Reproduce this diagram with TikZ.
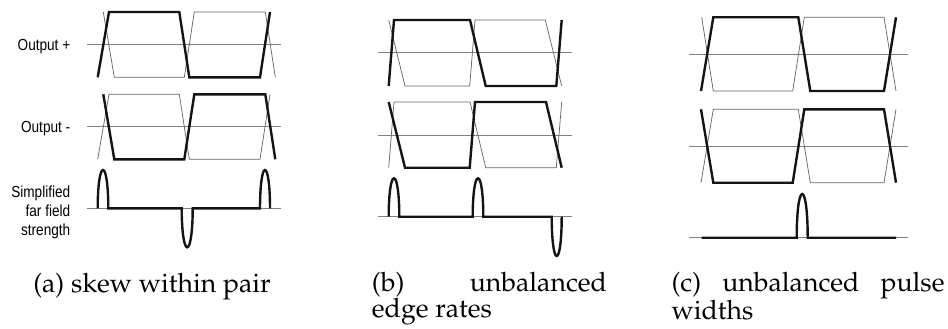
\documentclass[tikz,border=0pt]{standalone}
\usepackage{fontspec}
\newfontfamily\lblfont[FakeStretch=0.85]{Liberation Sans}
\newcommand\capfont{\fontencoding{OT1}\fontfamily{ppl}\fontsize{20}{18}\selectfont}
% half-ellipse arch from (#1,#3) to (#2,#3) with apex at height #4
\newcommand\archto[4]{.. controls (#1,{#3+0.58*(#4-#3)}) and ({(#1+#2)/2-0.29*(#2-#1)},#4) .. ({(#1+#2)/2},#4) .. controls ({(#1+#2)/2+0.29*(#2-#1)},#4) and (#2,{#3+0.58*(#4-#3)}) .. (#2,#3)}
\tikzset{
  axisline/.style={draw=black!50,line width=0.6pt},
  thinwave/.style={draw=black!60,line width=0.55pt,line join=miter},
  thickwave/.style={draw=black!92,line width=1.8pt,line join=miter},
  lbl/.style={font=\lblfont\fontsize{12}{14.2}\selectfont,inner sep=0pt,align=right},
  captxt/.style={font=\capfont,inner sep=0pt,anchor=base west},
}
\begin{document}
\begin{tikzpicture}[x=0.75pt,y=-0.75pt]
\useasboundingbox (0,0) rectangle (948,328);
% ---------- (a) skew within pair ----------
\node[lbl,anchor=base east] (lpa) at (70.5,50.7) {Output +};
\node[lbl,anchor=base east] (lma) at (70.5,132.7) {Output -};
\node[lbl,anchor=east] (lfa) at (70.5,212) {Simplified\\far field\\strength};
\draw[axisline] (87,44.3) -- (281,44.3);
\draw[thinwave] (103.3,12) -- (114.3,77.3) -- (184.3,77.3) -- (194.3,12) -- (265.3,12) -- (275.3,77.3);
\draw[thickwave] (97.7,77.3) -- (109,12) -- (179.3,12) -- (189.3,77.3) -- (260,77.3) -- (270,12);
\draw[axisline] (87,126.7) -- (281,126.7);
\draw[thinwave] (97.7,159.3) -- (109,94.3) -- (179.3,94.3) -- (189.3,159.3) -- (260,159.3) -- (270,94.3);
\draw[thickwave] (103.3,94.3) -- (114.3,159.3) -- (184.3,159.3) -- (194.3,94.3) -- (265.3,94.3) -- (275.3,159.3);
\draw[axisline] (87,208.3) -- (281,208.3);
\draw[thickwave] (97.7,208.3) \archto{97.7}{108.3}{208.3}{170} -- (181.7,208.3) \archto{181.7}{192.7}{208.3}{247.3} -- (260,208.3) \archto{260}{270}{208.3}{170};
\node[captxt] (capa) at (33,292) {(a) skew within pair};
% ---------- (b) unbalanced edge rates ----------
\draw[axisline] (378.3,52.7) -- (572.3,52.7);
\draw[thinwave] (388.7,20) -- (405,86) -- (469.7,86) -- (475,20) -- (545.3,20) -- (561.7,86);
\draw[thickwave] (388.7,86) -- (394,20) -- (470,20) -- (485.7,86) -- (556.3,86) -- (561.7,20);
\draw[axisline] (378.3,135) -- (572.3,135);
\draw[thinwave] (388.7,167.7) -- (394,102) -- (470,102) -- (485.7,167.7) -- (556.3,167.7) -- (561.7,102);
\draw[thickwave] (388.7,102) -- (405,167.7) -- (469.7,167.7) -- (475,102) -- (546,102) -- (561.7,167.7);
\draw[axisline] (378.3,216.7) -- (572.3,216.7);
\draw[thickwave] (388.7,216.7) \archto{388.7}{399.3}{216.7}{178.3} -- (472.7,216.7) \archto{472.7}{483.3}{216.7}{178.3} -- (551.7,216.7) \archto{551.7}{561.7}{216.7}{256};
\node[captxt] (capb) at (371.7,291) {\parbox[t]{176.25pt}{(b) unbalanced\linebreak edge rates}};
% ---------- (c) unbalanced pulse widths ----------
\draw[axisline] (689.3,54.3) -- (907.7,54.3);
\draw[thinwave] (701.7,17.3) -- (713.3,91) -- (792.7,91) -- (804.3,17.3) -- (884,17.3) -- (896,91);
\draw[thickwave] (701,91) -- (713.3,17.3) -- (798.3,17.3) -- (810.3,91) -- (884,91) -- (896,17.3);
\draw[axisline] (689.3,146) -- (907.7,146);
\draw[thinwave] (701,182.7) -- (713.3,109.3) -- (798.3,109.3) -- (810.3,182.7) -- (884,182.7) -- (896,109.3);
\draw[thickwave] (701,109.3) -- (713.3,182.7) -- (792.7,182.7) -- (804.3,109.3) -- (884,109.3) -- (896,182.7);
\draw[axisline] (689.3,237.7) -- (907.7,237.7);
\draw[thickwave] (701.7,237.7) -- (796.7,237.7) \archto{796.7}{807.7}{237.7}{194} -- (896,237.7);
\node[captxt] (capc) at (671.3,291) {\parbox[t]{204.75pt}{(c) unbalanced pulse\linebreak widths}};
\end{tikzpicture}
\end{document}
